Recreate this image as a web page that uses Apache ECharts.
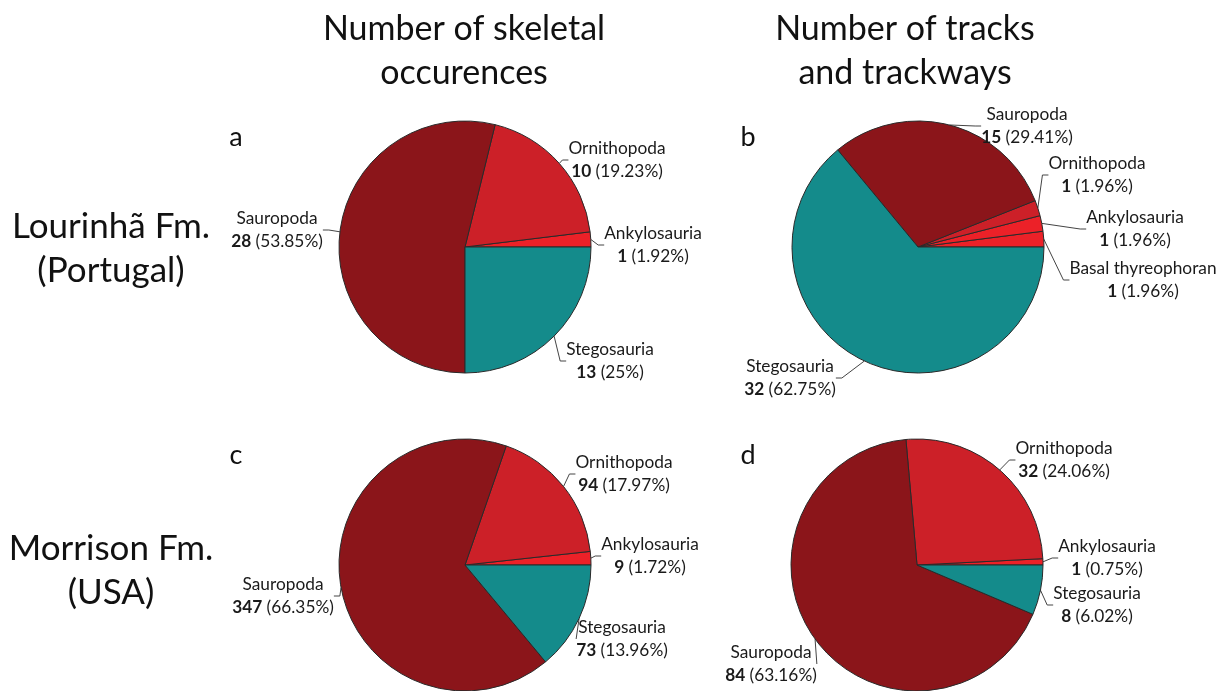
<!DOCTYPE html>
<html><head><meta charset="utf-8">
<script src="https://cdn.jsdelivr.net/npm/echarts@6/dist/echarts.min.js"></script>
<style>html,body{margin:0;padding:0;background:#fff}#c{width:1220px;height:691px}</style>
</head><body><div id="c"></div>
<script>
// Data (counter-clockwise from 3 o'clock)
const catsA = ['Ankylosauria','Ornithopoda','Sauropoda','Stegosauria'];
const valsA = [1, 10, 28, 13];
const pctA = ['1.92%','19.23%','53.85%','25%'];

const catsB = ['Basal thyreophoran','Ankylosauria','Ornithopoda','Sauropoda','Stegosauria'];
const valsB = [1, 1, 1, 15, 32];
const pctB = ['1.96%','1.96%','1.96%','29.41%','62.75%'];

const catsC = ['Ankylosauria','Ornithopoda','Sauropoda','Stegosauria'];
const valsC = [9, 94, 347, 73];
const pctC = ['1.72%','17.97%','66.35%','13.96%'];

const catsD = ['Ankylosauria','Ornithopoda','Sauropoda','Stegosauria'];
const valsD = [1, 32, 84, 8];
const pctD = ['0.75%','24.06%','63.16%','6.02%'];

const colTitles = [['Number of skeletal','occurences'],['Number of tracks','and trackways']];
const rowTitles = [['Lourinhã Fm.','(Portugal)'],['Morrison Fm.','(USA)']];
const panelLetters = ['a','b','c','d'];

const COLORS = {
  'Sauropoda':'#8b151a',
  'Ornithopoda':'#cc2028',
  'Ankylosauria':'#ec2128',
  'Basal thyreophoran':'#ec2128',
  'Stegosauria':'#148b8b'
};
const FONT = 'Lato';

// layout (not data)
const centers = [[465,247],[918,247],[465,565],[917,565]];
const R = 126;
const labelPos = [
  {Ornithopoda:[617,160], Ankylosauria:[653,245], Stegosauria:[610,361], Sauropoda:[277,230]},
  {Sauropoda:[1027,126], Ornithopoda:[1097,175], Ankylosauria:[1135,229], 'Basal thyreophoran':[1143,280], Stegosauria:[790,378]},
  {Ornithopoda:[624,474], Ankylosauria:[650,556], Stegosauria:[622,639], Sauropoda:[283,596]},
  {Ornithopoda:[1064,460], Ankylosauria:[1107,558], Stegosauria:[1097,605], Sauropoda:[771,664]}
];

const sets = [[catsA,valsA,pctA],[catsB,valsB,pctB],[catsC,valsC,pctC],[catsD,valsD,pctD]];
const LFS = 17.3;

const series = sets.map(([cats,vals,pcts],si)=>({
  type:'pie',
  center: centers[si],
  radius: R,
  startAngle: 0,
  clockwise: false,
  animation:false,
  silent:true,
  itemStyle:{borderColor:'#2a2a2a', borderWidth:1},
  label:{
    show:true, position:'outside',
    fontFamily:FONT, fontSize:LFS, color:'#1a1a1a', lineHeight:23, align:'center',
    rich:{b:{fontWeight:'bold', fontFamily:FONT, fontSize:LFS, color:'#1a1a1a'},
          n:{fontFamily:FONT, fontSize:LFS, color:'#1a1a1a'}}
  },
  labelLine:{show:true, length:6, length2:6, smooth:false, lineStyle:{color:'#444', width:1}},
  labelLayout: function(p){
    const name = cats[p.dataIndex];
    const pos = labelPos[si][name];
    return {x:pos[0], y:pos[1], align:'center', verticalAlign:'middle'};
  },
  data: cats.map((c,i)=>({
    name:c, value:vals[i],
    itemStyle:{color:COLORS[c]},
    label:{formatter: c + '\n{b|' + vals[i] + '} {n|(' + pcts[i] + ')}'}
  }))
}));

const graphic = [];
const colX = [464, 905];
colTitles.forEach((t,i)=>t.forEach((line,j)=>graphic.push({
  type:'text', x:colX[i], y:29+44*j,
  style:{text:line, font:'34px '+FONT, fill:'#111', align:'center', verticalAlign:'middle'}
})));
const rowY = [227, 549];
rowTitles.forEach((t,i)=>t.forEach((line,j)=>graphic.push({
  type:'text', x:111, y:rowY[i]+44*j,
  style:{text:line, font:'35px '+FONT, fill:'#111', align:'center', verticalAlign:'middle'}
})));
const letterPos = [[236,137],[748,137],[236,455],[748,455]];
panelLetters.forEach((l,i)=>graphic.push({
  type:'text', x:letterPos[i][0], y:letterPos[i][1],
  style:{text:l, font:'27px '+FONT, fill:'#111', align:'center', verticalAlign:'middle'}
}));

const chart = echarts.init(document.getElementById('c'));
chart.setOption({backgroundColor:'#fff', series, graphic});
</script></body></html>
